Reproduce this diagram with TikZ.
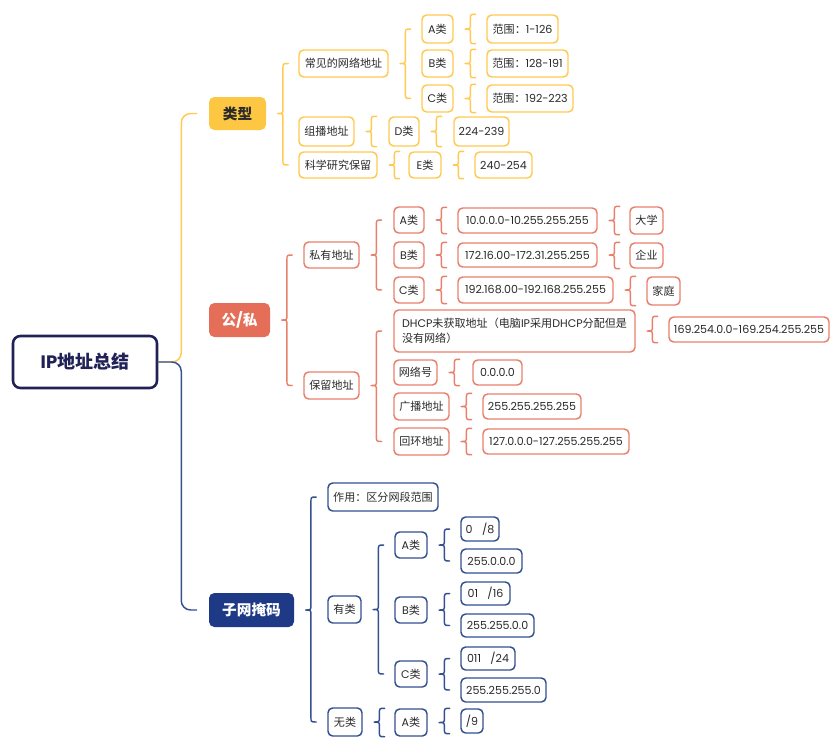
\documentclass[tikz,border=0pt]{standalone}
\usepackage{fontspec}
\setmainfont{Poppins}
\newfontfamily\cjk{Noto Sans CJK SC}
\usetikzlibrary{calc}
\definecolor{yl}{HTML}{FFC952}
\definecolor{ylf}{HTML}{FEC743}
\definecolor{rd}{HTML}{E8806C}
\definecolor{rdf}{HTML}{E56E58}
\definecolor{nv}{HTML}{34508F}
\definecolor{nvf}{HTML}{1E3A86}
\definecolor{rootc}{HTML}{1F2157}
\definecolor{txt}{HTML}{2A2A2A}
\newcommand\zh[1]{{\cjk #1}}
\newcommand\bx[7]{\node[#6,minimum width={(#4-#2)*0.75pt},minimum height={(#5-#3)*0.75pt}] (#1) at ({(#2+#4)/2},{(#3+#5)/2}) {#7};}
\newcommand\brc[4]{%
  \draw[#1] let \p1=(#2.east), \p2=(#3), \p3=(#4) in
    (\x1+16.5pt,\y2) .. controls (\x1+12.5pt,\y2) .. (\x1+12.5pt,\y2-4pt)
    -- (\x1+12.5pt,\y1+4pt) .. controls (\x1+12.5pt,\y1) .. (\x1+8.5pt,\y1)
    .. controls (\x1+12.5pt,\y1) .. (\x1+12.5pt,\y1-4pt)
    -- (\x1+12.5pt,\y3+4pt) .. controls (\x1+12.5pt,\y3) .. (\x1+16.5pt,\y3);}
\tikzset{
  box/.style={draw,rounded corners=3.5pt,inner sep=0pt,line width=1.1pt,fill=white,text=txt,
    font=\fontsize{8.3}{11}\selectfont,align=center},
  ybox/.style={box,draw=yl},
  rbox/.style={box,draw=rd},
  nbox/.style={box,draw=nv},
  mainbox/.style={rounded corners=4pt,inner sep=0pt,font=\bfseries\fontsize{11}{13}\selectfont},
  rootbox/.style={draw=rootc,line width=1.9pt,rounded corners=5.5pt,fill=white,inner sep=0pt,
    text=rootc,font=\bfseries\fontsize{13.5}{15}\selectfont},
  link/.style={line width=1.1pt,line cap=round,line join=round},
  ylink/.style={link,draw=yl},
  rlink/.style={link,draw=rd},
  nlink/.style={link,draw=nv},
}
\begin{document}
\begin{tikzpicture}[x=0.75pt,y=-0.75pt]
\useasboundingbox (0,0) rectangle (839,751);
% root and main branches
\bx{root}{13}{336}{157}{388}{rootbox}{IP\zh{地址总结}}
\bx{lx}{209}{97}{266}{130}{mainbox,fill=ylf,text=txt}{\zh{类型}}
\bx{gs}{209}{303}{270}{337}{mainbox,fill=rdf,text=white}{\zh{公}/\zh{私}}
\bx{zw}{209}{593}{294}{627}{mainbox,fill=nvf,text=white}{\zh{子网掩码}}
% yellow
\bx{cj}{299}{50}{388}{77}{ybox}{\zh{常见的网络地址}}
\bx{zb}{299}{117}{354}{146}{ybox}{\zh{组播地址}}
\bx{kx}{299}{152}{377}{178}{ybox}{\zh{科学研究保留}}
\bx{ya}{422}{15}{453}{43}{ybox}{A\zh{类}}
\bx{yb}{422}{50}{453}{77}{ybox}{B\zh{类}}
\bx{yc}{422}{85}{453}{112}{ybox}{C\zh{类}}
\bx{ra}{487}{15}{558}{43}{ybox}{\zh{范围：}1-126}
\bx{rb}{487}{50}{568}{77}{ybox}{\zh{范围：}128-191}
\bx{rc}{487}{85}{573}{112}{ybox}{\zh{范围：}192-223}
\bx{yd}{389}{117}{419}{146}{ybox}{D\zh{类}}
\bx{rd}{454}{117}{509}{146}{ybox}{224-239}
\bx{ye}{409}{152}{441}{178}{ybox}{E\zh{类}}
\bx{re}{475}{152}{532}{178}{ybox}{240-254}
% red
\bx{sy}{304}{242}{359}{268}{rbox}{\zh{私有地址}}
\bx{pa}{394}{207}{424}{233}{rbox}{A\zh{类}}
\bx{pb}{394}{242}{424}{268}{rbox}{B\zh{类}}
\bx{pc}{394}{277}{424}{303}{rbox}{C\zh{类}}
\bx{pra}{458}{208}{597}{233}{rbox}{10.0.0.0-10.255.255.255}
\bx{prb}{458}{243}{597}{267}{rbox}{172.16.00-172.31.255.255}
\bx{prc}{458}{277}{613}{303}{rbox}{192.168.00-192.168.255.255}
\bx{dx}{630}{207}{663}{234}{rbox}{\zh{大学}}
\bx{qy}{630}{243}{663}{268}{rbox}{\zh{企业}}
\bx{jt}{647}{277}{680}{305}{rbox}{\zh{家庭}}
\bx{bl}{304}{372}{359}{399}{rbox}{\zh{保留地址}}
\bx{dh}{394}{310}{635}{352}{rbox,align=left}{DHCP\zh{未获取地址（电脑}IP\zh{采用}DHCP\zh{分配但是}\\\zh{没有网络）}}
\bx{dip}{669}{317}{829}{342}{rbox}{169.254.0.0-169.254.255.255}
\bx{wl}{394}{360}{437}{385}{rbox}{\zh{网络号}}
\bx{zero}{473}{360}{522}{385}{rbox}{0.0.0.0}
\bx{gb}{394}{393}{449}{420}{rbox}{\zh{广播地址}}
\bx{bc}{483}{394}{581}{419}{rbox}{255.255.255.255}
\bx{hh}{394}{428}{449}{455}{rbox}{\zh{回环地址}}
\bx{lb}{483}{429}{629}{454}{rbox}{127.0.0.0-127.255.255.255}
% navy
\bx{zy}{328}{483}{438}{511}{nbox}{\zh{作用：区分网段范围}}
\bx{yl}{328}{596}{361}{623}{nbox}{\zh{有类}}
\bx{wul}{328}{708}{362}{736}{nbox}{\zh{无类}}
\bx{na}{395}{532}{427}{558}{nbox}{A\zh{类}}
\bx{nb}{395}{597}{427}{623}{nbox}{B\zh{类}}
\bx{nc}{395}{661}{427}{687}{nbox}{C\zh{类}}
\bx{ma}{461}{517}{499}{541}{nbox}{0\hspace{7pt}/8}
\bx{mb}{461}{549}{522}{573}{nbox}{255.0.0.0}
\bx{mc}{461}{582}{510}{605}{nbox}{01\hspace{7pt}/16}
\bx{md}{461}{614}{534}{637}{nbox}{255.255.0.0}
\bx{me}{461}{647}{515}{670}{nbox}{011\hspace{7pt}/24}
\bx{mf}{461}{678}{546}{702}{nbox}{255.255.255.0}
\bx{nd}{395}{709}{427}{736}{nbox}{A\zh{类}}
\bx{mg}{461}{709}{483}{733}{nbox}{/9}
% trunk
\draw[ylink,rounded corners=7pt] (root.east) -- ++(23,0) |- ([xshift=-9pt]lx.west);
\draw[nlink,rounded corners=7pt] (root.east) -- ++(23,0) |- ([xshift=-9pt]zw.west);
% yellow braces
\brc{ylink}{lx}{cj.west}{kx.west}
\brc{ylink}{cj}{ya.west}{yc.west}
\brc{ylink}{ya}{ra.north}{ra.south}
\brc{ylink}{yb}{rb.north}{rb.south}
\brc{ylink}{yc}{rc.north}{rc.south}
\brc{ylink}{zb}{yd.north}{yd.south}
\brc{ylink}{yd}{rd.north}{rd.south}
\brc{ylink}{kx}{ye.north}{ye.south}
\brc{ylink}{ye}{re.north}{re.south}
% red braces
\brc{rlink}{gs}{sy.west}{bl.west}
\brc{rlink}{sy}{pa.west}{pc.west}
\brc{rlink}{pa}{pra.north}{pra.south}
\brc{rlink}{pb}{prb.north}{prb.south}
\brc{rlink}{pc}{prc.north}{prc.south}
\brc{rlink}{pra}{dx.north}{dx.south}
\brc{rlink}{prb}{qy.north}{qy.south}
\brc{rlink}{prc}{jt.north}{jt.south}
\brc{rlink}{bl}{dh.west}{hh.west}
\brc{rlink}{dh}{dip.north}{dip.south}
\brc{rlink}{wl}{zero.north}{zero.south}
\brc{rlink}{gb}{bc.north}{bc.south}
\brc{rlink}{hh}{lb.north}{lb.south}
% navy braces
\brc{nlink}{zw}{zy.west}{wul.west}
\brc{nlink}{yl}{na.west}{nc.west}
\brc{nlink}{na}{ma.west}{mb.west}
\brc{nlink}{nb}{mc.west}{md.west}
\brc{nlink}{nc}{me.west}{mf.west}
\brc{nlink}{wul}{nd.north}{nd.south}
\brc{nlink}{nd}{mg.north}{mg.south}
\end{tikzpicture}
\end{document}
